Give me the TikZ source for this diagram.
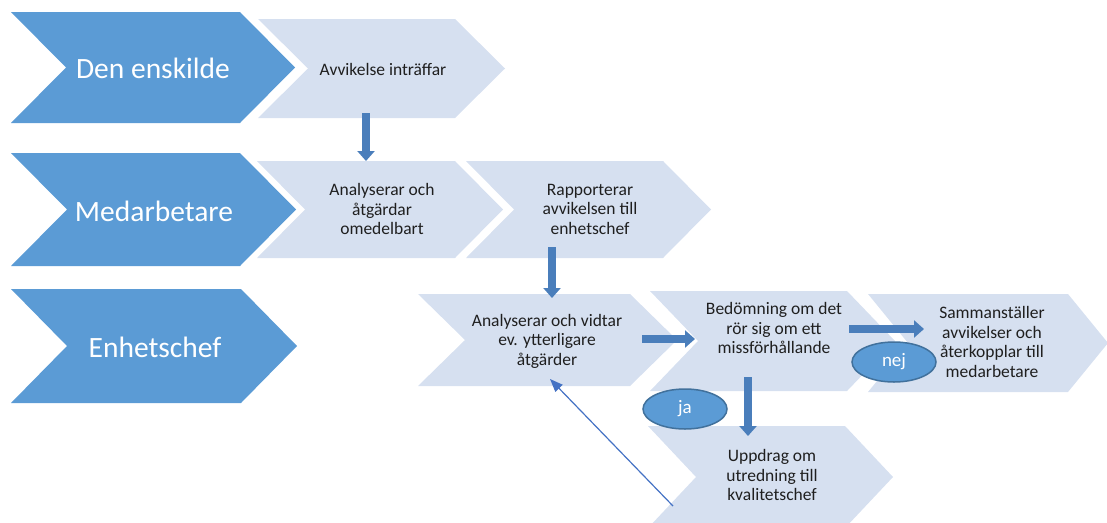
\documentclass[tikz,border=0pt]{standalone}
\usepackage{fontspec}
\setmainfont{Carlito}
\usetikzlibrary{arrows.meta,shapes.geometric}
\definecolor{darkchev}{HTML}{5B9BD5}
\definecolor{lightchev}{HTML}{D6E0F0}
\definecolor{arrowfill}{HTML}{4A7EBB}
\definecolor{ovalline}{HTML}{41719C}
\definecolor{thinarrow}{HTML}{4472C4}
\newcommand\chevshape[6]{%
  \fill[#1] (#2,#4) -- (#3,#4) -- ({#3+#6},{(#4+#5)/2}) -- (#3,#5) -- (#2,#5) -- ({#2+#6},{(#4+#5)/2}) -- cycle;}
\tikzset{
  darkshape/.style={fill=darkchev},
  lightshape/.style={fill=lightchev},
  roletext/.style={text=white, font=\fontsize{29.5}{34}\selectfont, inner sep=0pt},
  steptext/.style={text=black!88, font=\fontsize{17.5}{19.5}\selectfont, align=center, inner sep=0pt},
  fatarrow/.style={draw=arrowfill, line width=8pt, -{Triangle[width=17pt,length=10pt]}},
  thinconn/.style={draw=thinarrow, line width=1.2pt, -{Triangle[width=10pt,length=13pt]}},
  oval/.style={ellipse, fill=darkchev, draw=ovalline, line width=1.5pt, minimum width=84pt, minimum height=40pt, inner sep=0pt, text=white, font=\fontsize{19}{22}\selectfont},
}
\begin{document}
\begin{tikzpicture}[x=1pt,y=-1pt]
\useasboundingbox (0,0) rectangle (1107,522);
\clip (0,0) rectangle (1107,522);
% role chevrons
\chevshape{darkshape}{11}{240}{12}{123}{55}
\chevshape{darkshape}{11}{240}{153}{266}{56}
\chevshape{darkshape}{11}{241}{289}{403}{56}
% step chevrons
\chevshape{lightshape}{258}{455}{19}{118}{50}
\chevshape{lightshape}{257}{455}{161}{258}{48}
\chevshape{lightshape}{466}{663}{161}{258}{48}
\chevshape{lightshape}{418}{630}{294}{386}{47}
\chevshape{lightshape}{650}{847}{291}{391}{48}
\chevshape{lightshape}{868}{1068}{294}{392}{40}
\chevshape{lightshape}{648}{845}{426}{528}{48}
% role texts
\node[roletext] (r1) at (153,68) {Den enskilde};
\node[roletext] (r2) at (154,211) {Medarbetare};
\node[roletext] (r3) at (155,347) {Enhetschef};
% step texts
\node[steptext] (s1) at (383,69) {Avvikelse inträffar};
\node[steptext] (s2) at (382,209) {Analyserar och\\åtgärdar\\omedelbart};
\node[steptext] (s3) at (590,209) {Rapporterar\\avvikelsen till\\enhetschef};
\node[steptext] (s4) at (547,341) {Analyserar och vidtar\\ev. ytterligare\\åtgärder};
\node[steptext] (s5) at (774,328) {Bedömning om det\\rör sig om ett\\missförhållande};
\node[steptext] (s6) at (992,342) {Sammanställer\\avvikelser och\\återkopplar till\\medarbetare};
\node[steptext] (s7) at (772,475) {Uppdrag om\\utredning till\\kvalitetschef};
% decision ovals
\node[oval] (nej) at (894,362) {nej};
\node[oval] (ja) at (685,409) {ja};
% connector end points
\coordinate (a1s) at (366,113); \coordinate (a1e) at (366,161);
\coordinate (a2s) at (552,247); \coordinate (a2e) at (552,298);
\coordinate (a3s) at (642,339); \coordinate (a3e) at (695,339);
\coordinate (a4s) at (849,329); \coordinate (a4e) at (924,329);
\coordinate (a5s) at (748,377); \coordinate (a5e) at (748,436);
\coordinate (a6s) at (673,506); \coordinate (a6e) at (550,379);
\draw[fatarrow] (a1s) -- (a1e);
\draw[fatarrow] (a2s) -- (a2e);
\draw[fatarrow] (a3s) -- (a3e);
\draw[fatarrow] (a4s) -- (a4e);
\draw[fatarrow] (a5s) -- (a5e);
\draw[thinconn] (a6s) -- (a6e);
\end{tikzpicture}
\end{document}
